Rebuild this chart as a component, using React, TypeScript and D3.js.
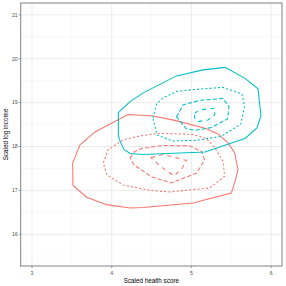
import React from "react";
import * as d3 from "d3";

const xTicks = [3, 4, 5, 6];
const yTicks = [16, 17, 18, 19, 20, 21];
const xMinor = [3.5, 4.5, 5.5];
const yMinor = [15.5, 16.5, 17.5, 18.5, 19.5, 20.5];

// contour levels: 1 = outer (solid) ... 4 = inner (dashed)
const redLevel1: [number, number][] = [
  [3.511, 17.626], [3.602, 18.036], [3.79, 18.332], [4.205, 18.731], [4.518, 18.697],
  [4.794, 18.595], [5.183, 18.412], [5.334, 18.287], [5.459, 18.082], [5.543, 17.854],
  [5.585, 17.473], [5.543, 17.17], [5.501, 16.942], [5.02, 16.714], [4.393, 16.611],
  [4.23, 16.6], [3.937, 16.675], [3.686, 16.844], [3.514, 17.113],
];
const redLevel2: [number, number][] = [
  [3.895, 17.626], [3.954, 17.922], [4.142, 18.15], [4.355, 18.241], [4.602, 18.303],
  [5.02, 18.275], [5.187, 18.184], [5.296, 17.968], [5.396, 17.664], [5.418, 17.322],
  [5.23, 17.056], [4.731, 16.964], [4.481, 16.999], [4.142, 17.124], [3.941, 17.352],
];
const redLevel3: [number, number][] = [
  [4.23, 17.74], [4.28, 17.876], [4.38, 17.956], [4.644, 18.025], [4.982, 18.013],
  [5.127, 17.888], [5.164, 17.694], [5.07, 17.398], [4.744, 17.17], [4.506, 17.306],
  [4.28, 17.58],
];
const redLevel4: [number, number][] = [
  [4.493, 17.751], [4.644, 17.819], [4.938, 17.683], [4.882, 17.5], [4.782, 17.329],
  [4.606, 17.557],
];
const cyanLevel1: [number, number][] = [
  [4.083, 18.772], [4.23, 19.023], [4.396, 19.222], [4.813, 19.609], [5.146, 19.746],
  [5.422, 19.803], [5.673, 19.552], [5.836, 19.313], [5.873, 18.697], [5.823, 18.424],
  [5.673, 18.184], [5.484, 18.07], [5.171, 17.876], [4.393, 17.819], [4.23, 17.842],
  [4.154, 17.933], [4.098, 18.15], [4.083, 18.264],
];
const cyanLevel2: [number, number][] = [
  [4.518, 18.652], [4.562, 18.971], [4.644, 19.108], [4.819, 19.256], [5.045, 19.301],
  [5.396, 19.347], [5.635, 19.199], [5.666, 18.925], [5.622, 18.515], [5.371, 18.23],
  [5.058, 18.139], [4.757, 18.127], [4.568, 18.264],
];
const cyanLevel3: [number, number][] = [
  [4.813, 18.674], [4.895, 18.948], [5.104, 19.051], [5.396, 19.096], [5.472, 18.914],
  [5.453, 18.629], [5.258, 18.435], [5.045, 18.367], [4.932, 18.412],
];
const cyanLevel4: [number, number][] = [
  [5.041, 18.759], [5.104, 18.834], [5.292, 18.873], [5.292, 18.72], [5.208, 18.606],
  [5.083, 18.567], [5.041, 18.645],
];

const groups = [
  { color: "#F8766D", levels: [redLevel1, redLevel2, redLevel3, redLevel4] },
  { color: "#00BFC4", levels: [cyanLevel1, cyanLevel2, cyanLevel3, cyanLevel4] },
];
const dashes = [null, "2.1,2.1", "4.2,2.1", "4.2,4.2"];

const W = 286, H = 286;
const left = 20.7, right = 282, top = 3, bottom = 266;

export default function App() {
  const x = d3.scaleLinear().domain([2.858, 6.137]).range([left, right]);
  const y = d3.scaleLinear().domain([15.277, 21.27]).range([bottom, top]);
  const line = d3
    .line<[number, number]>()
    .x((d) => x(d[0]))
    .y((d) => y(d[1]))
    .curve(d3.curveLinearClosed);
  const font = "'Liberation Sans', Arial, sans-serif";
  return (
    <svg
      width={W}
      height={H}
      style={{ position: "absolute", left: 0, top: 0, background: "#fff" }}
    >
      <rect x={0} y={0} width={W} height={H} fill="#fff" />
      {xMinor.map((v) => (
        <line key={"xm" + v} x1={x(v)} x2={x(v)} y1={top} y2={bottom} stroke="#F2F2F2" strokeWidth={0.5} />
      ))}
      {yMinor.map((v) => (
        <line key={"ym" + v} x1={left} x2={right} y1={y(v)} y2={y(v)} stroke="#F2F2F2" strokeWidth={0.5} />
      ))}
      {xTicks.map((v) => (
        <line key={"xg" + v} x1={x(v)} x2={x(v)} y1={top} y2={bottom} stroke="#EBEBEB" strokeWidth={1} />
      ))}
      {yTicks.map((v) => (
        <line key={"yg" + v} x1={left} x2={right} y1={y(v)} y2={y(v)} stroke="#EBEBEB" strokeWidth={1} />
      ))}
      {groups.map((g, gi) =>
        g.levels.map((pts, li) => (
          <path
            key={gi + "-" + li}
            d={line(pts) || ""}
            fill="none"
            stroke={g.color}
            strokeWidth={1.07}
            strokeDasharray={dashes[li] || undefined}
          />
        ))
      )}
      <rect
        x={left}
        y={top}
        width={right - left}
        height={bottom - top}
        fill="none"
        stroke="#808080"
        strokeWidth={1}
      />
      {xTicks.map((v) => (
        <g key={"xt" + v}>
          <line x1={x(v)} x2={x(v)} y1={bottom} y2={bottom + 2} stroke="#808080" strokeWidth={0.8} />
          <text x={x(v)} y={bottom + 8.5} textAnchor="middle" fontFamily={font} fontSize={5.2} fill="#4D4D4D">
            {v}
          </text>
        </g>
      ))}
      {yTicks.map((v) => (
        <g key={"yt" + v}>
          <line x1={left - 2} x2={left} y1={y(v)} y2={y(v)} stroke="#808080" strokeWidth={0.8} />
          <text x={left - 3} y={y(v)} dy="0.35em" textAnchor="end" fontFamily={font} fontSize={5.2} fill="#4D4D4D">
            {v}
          </text>
        </g>
      ))}
      <text x={(left + right) / 2} y={283} textAnchor="middle" fontFamily={font} fontSize={6.3} fill="#000">
        Scaled health score
      </text>
      <text
        transform={`translate(7.5,${(top + bottom) / 2}) rotate(-90)`}
        textAnchor="middle"
        fontFamily={font}
        fontSize={6.3}
        fill="#000"
      >
        Scaled log income
      </text>
    </svg>
  );
}
